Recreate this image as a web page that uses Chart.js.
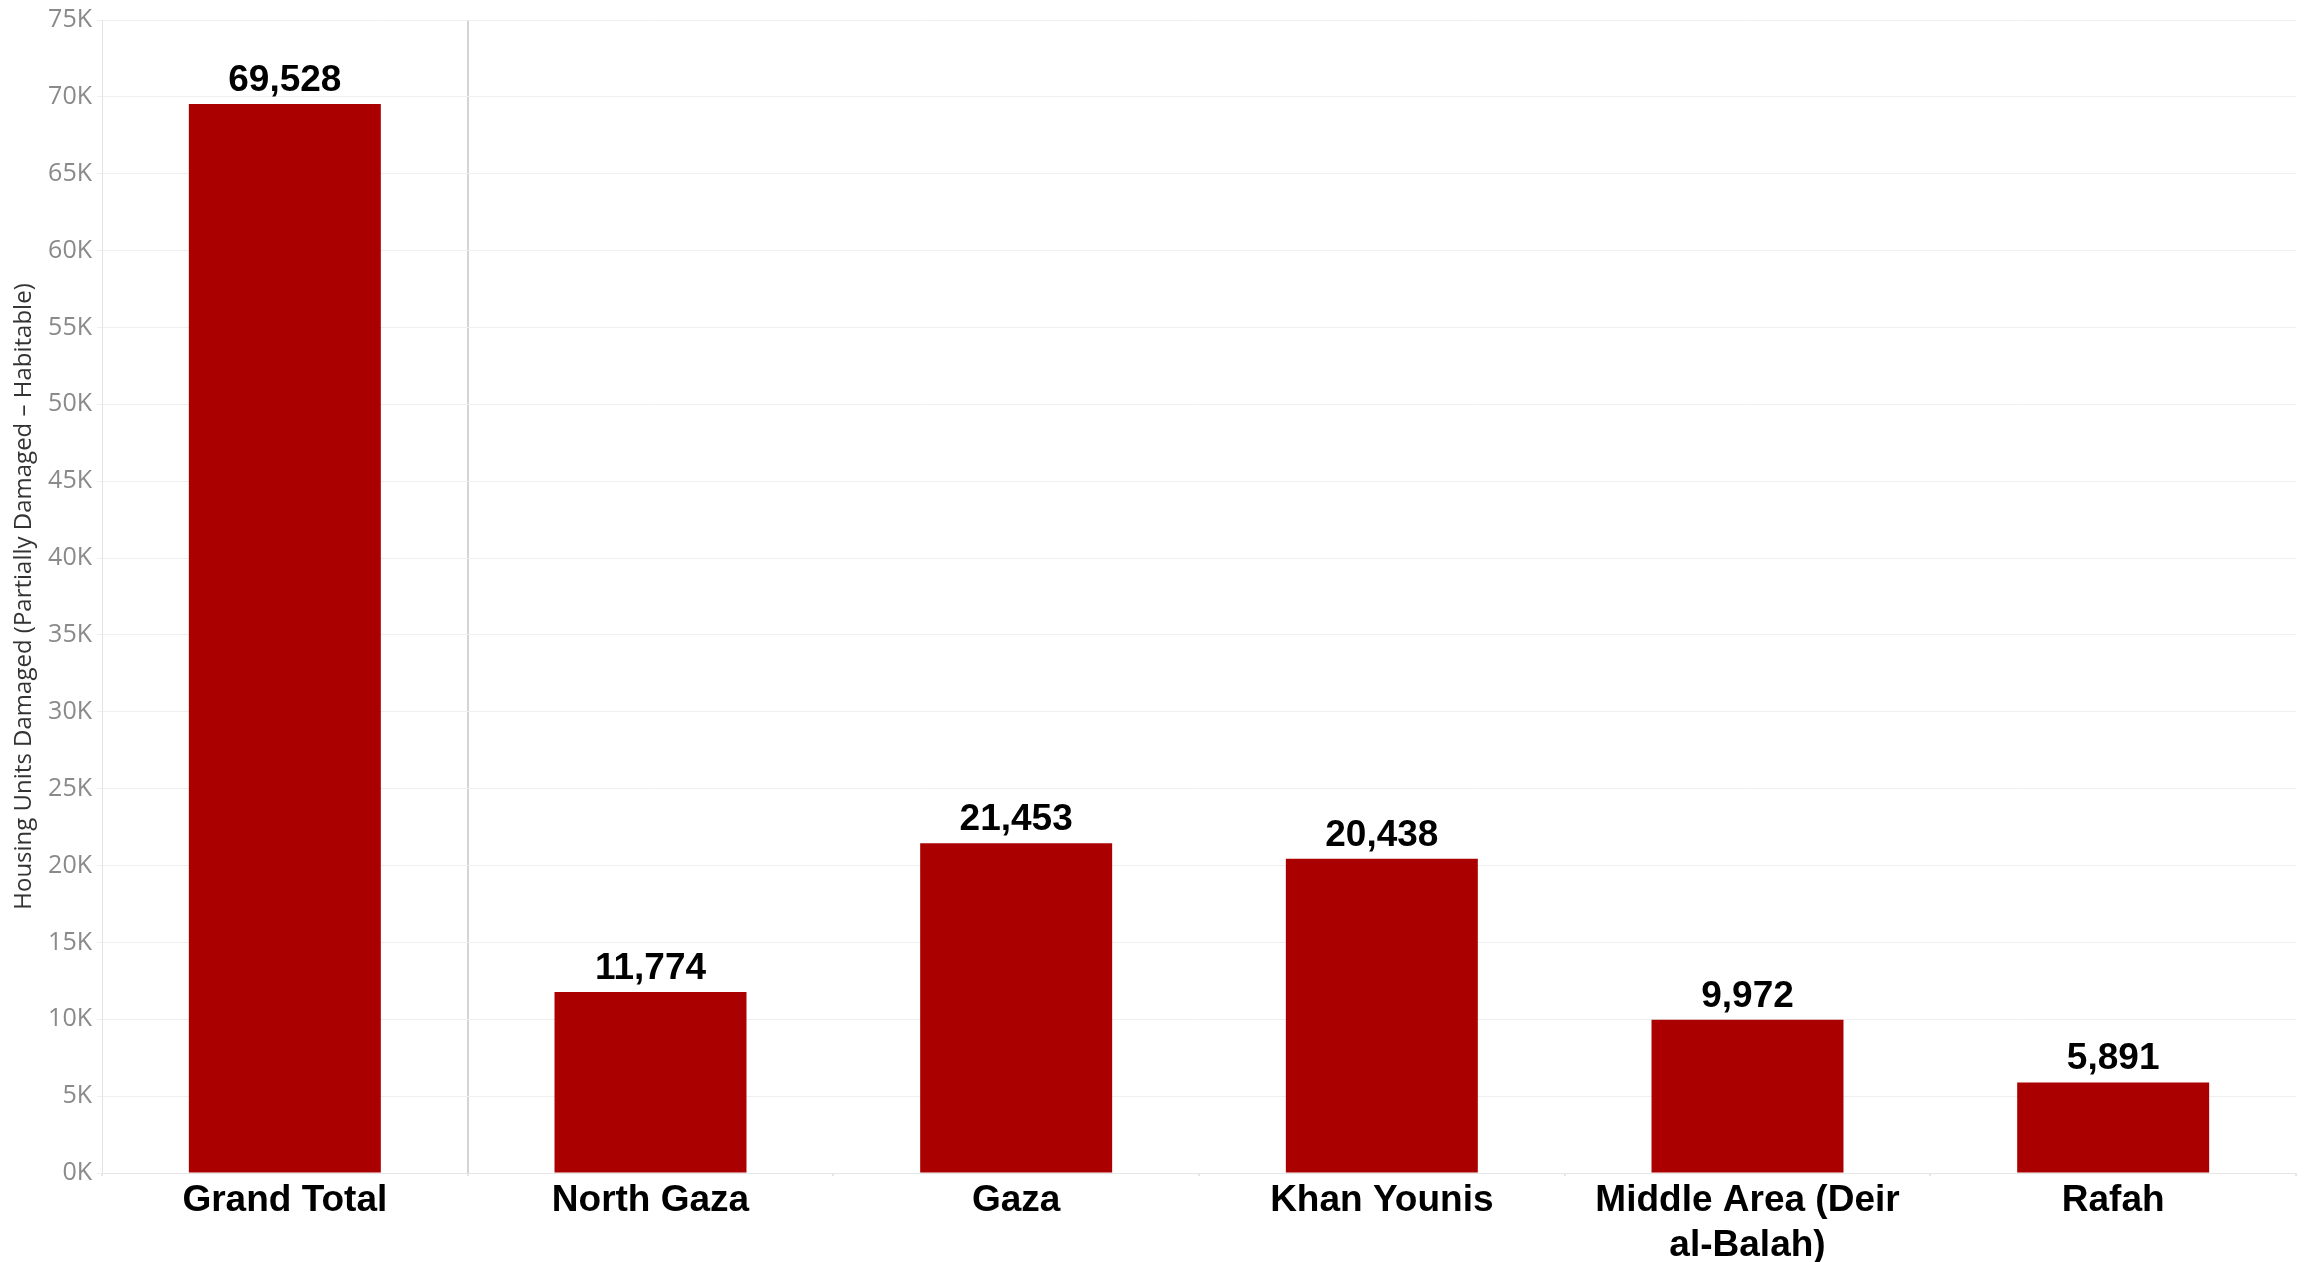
<!DOCTYPE html>
<html>
<head>
<meta charset="utf-8">
<script src="https://cdn.jsdelivr.net/npm/chart.js@4.4.1/dist/chart.umd.min.js"></script>
<style>
  html, body { margin: 0; padding: 0; background: #fff; }
  #wrap { width: 2307px; height: 1262px; }
</style>
</head>
<body>
<div id="wrap"><canvas id="damage-chart" width="2307" height="1262"></canvas></div>
<script>
// Housing units damaged (partially damaged - habitable)
const areas = ["Grand Total", "North Gaza", "Gaza", "Khan Younis", ["Middle Area (Deir", "al-Balah)"], "Rafah"];
const unitsDamaged = [69528, 11774, 21453, 20438, 9972, 5891];
const yTicks = [0, 5000, 10000, 15000, 20000, 25000, 30000, 35000, 40000, 45000, 50000, 55000, 60000, 65000, 70000, 75000];

// draws the value above each bar
const valueLabels = {
  id: 'valueLabels',
  afterDatasetsDraw(chart) {
    const ctx = chart.ctx;
    const meta = chart.getDatasetMeta(0);
    ctx.save();
    ctx.font = 'bold 37px "Liberation Sans", Arial, sans-serif';
    ctx.fillStyle = '#000';
    ctx.textAlign = 'center';
    ctx.textBaseline = 'alphabetic';
    meta.data.forEach((bar, i) => {
      ctx.fillText(unitsDamaged[i].toLocaleString('en-US'), bar.x, bar.y - 13);
    });
    ctx.restore();
  }
};

const damageData = {
  labels: areas,
  datasets: [{
    data: unitsDamaged,
    backgroundColor: '#aa0000',
    borderWidth: 0,
    categoryPercentage: 1,
    barPercentage: 0.525
  }]
};

const damageOptions = {
  responsive: false,
  devicePixelRatio: 1,
  animation: false,
  layout: {
    padding: { top: 15, right: 11, left: 0, bottom: 0 }
  },
  scales: {
    x: {
      grid: {
        offset: true,
        color: (c) => c.index === 1 ? '#d4d4d4' : 'rgba(0,0,0,0)',
        tickColor: '#e6e6e6',
        tickLength: 3,
        lineWidth: 2
      },
      border: { display: true, color: '#e6e6e6' },
      ticks: {
        autoSkip: false,
        maxRotation: 0,
        padding: 3,
        color: '#000',
        font: { family: '"Liberation Sans", Arial, sans-serif', size: 37, weight: 'bold', lineHeight: 1.2 }
      },
      afterFit: (scale) => { scale.height = 89; }
    },
    y: {
      min: 0,
      max: 75000,
      afterBuildTicks: (scale) => { scale.ticks = yTicks.map(v => ({ value: v })); },
      grid: {
        color: '#efefef',
        tickLength: 5
      },
      border: { display: true, color: '#e2e2e2' },
      ticks: {
        padding: 5,
        color: '#8a8a8a',
        font: { family: '"Open Sans", sans-serif', size: 25 },
        callback: (v) => (v / 1000) + 'K'
      },
      title: {
        display: true,
        text: 'Housing Units Damaged (Partially Damaged – Habitable)',
        color: '#333',
        padding: { top: 10, bottom: 0 },
        font: { family: '"Open Sans", sans-serif', size: 24 }
      },
      afterFit: (scale) => { scale.width = 102; }
    }
  },
  plugins: {
    legend: { display: false },
    tooltip: { enabled: false }
  }
};

let damageChart = new Chart(document.getElementById('damage-chart'), {
  type: 'bar',
  data: damageData,
  options: damageOptions,
  plugins: [valueLabels]
});
</script>
</body>
</html>
